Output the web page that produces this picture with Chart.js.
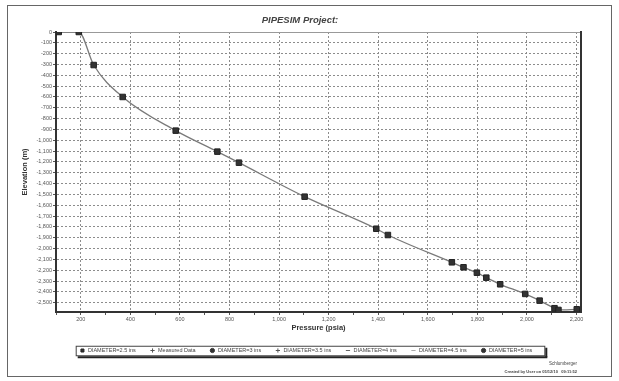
<!DOCTYPE html>
<html>
<head>
<meta charset="utf-8">
<script src="https://cdn.jsdelivr.net/npm/chart.js@4.4.1/dist/chart.umd.min.js"></script>
<style>
  html, body { margin: 0; padding: 0; background: #fff; }
  #wrap { position: relative; width: 619px; height: 381px; overflow: hidden; font-family: "Liberation Sans", Arial, sans-serif; }
  #frame { position: absolute; left: 7px; top: 5px; width: 605px; height: 372px; border: 1px solid #666; box-sizing: border-box; }
  canvas { position: absolute; left: 0; top: 0; }
  #title { position: absolute; left: 0; width: 600px; top: 14px; line-height: 11px; text-align: center; font: italic bold 9.5px "Liberation Sans", Arial, sans-serif; color: #444; }
  .foot { position: absolute; right: 42px; text-align: right; color: #444; white-space: nowrap; }
  #brand { top: 361px; font-size: 4.5px; }
  #created { top: 369px; font-size: 4px; font-weight: bold; }
</style>
</head>
<body>
<div id="wrap">
  <div id="frame"></div>
  <canvas id="chart" width="619" height="381"></canvas>
  <div id="title">PIPESIM Project:</div>
  <div class="foot" id="brand">Schlumberger</div>
  <div class="foot" id="created">Created by User on 05/12/10&nbsp;&nbsp;&nbsp;09:11:52</div>
</div>
<script>
// profil : pression (psia) / élévation (m)
const pressure = [111, 192, 252, 369, 583, 751, 838, 1103, 1392, 1439, 1697, 1744, 1798, 1836, 1892, 1993, 2051, 2111, 2127, 2201];
const elevation = [0, 0, -305, -600, -911, -1105, -1207, -1521, -1817, -1875, -2127, -2173, -2223, -2269, -2330, -2419, -2481, -2551, -2567, -2561];

const pressureTicks = [100, 200, 300, 400, 500, 600, 700, 800, 900, 1000, 1100, 1200, 1300, 1400, 1500, 1600, 1700, 1800, 1900, 2000, 2100, 2200];
const pressureLabels = [200, 400, 600, 800, 1000, 1200, 1400, 1600, 1800, 2000, 2200];
const elevationTicks = [0, -100, -200, -300, -400, -500, -600, -700, -800, -900, -1000, -1100, -1200, -1300, -1400, -1500, -1600, -1700, -1800, -1900, -2000, -2100, -2200, -2300, -2400, -2500];

const legendNames = ['DIAMETER=2.5 ins', 'Measured Data', 'DIAMETER=3 ins', 'DIAMETER=3.5 ins', 'DIAMETER=4 ins', 'DIAMETER=4.5 ins', 'DIAMETER=5 ins'];
const legendStyles = ['rect', 'cross', 'circle', 'cross', 'line', 'line', 'circle'];
const legendColors = ['#333', '#555', '#333', '#555', '#666', '#aaa', '#333'];

const fmt = v => Number(v).toLocaleString('en-US');

const datasets = legendNames.map((name, i) => ({
  label: name,
  data: i === 0 ? pressure.map((p, k) => ({x: p, y: elevation[k]})) : [],
  borderColor: i === 0 ? '#7a7a7a' : legendColors[i],
  backgroundColor: legendColors[i],
  borderWidth: i === 0 ? 1.3 : 1,
  pointStyle: legendStyles[i],
  pointRadius: i === 0 ? 3.9 : 3,
  pointBackgroundColor: legendColors[i],
  pointBorderColor: i === 0 ? '#222' : legendColors[i],
  pointBorderWidth: 1,
  cubicInterpolationMode: 'monotone',
  fill: false,
}));

// cadre autour de la légende, avec ombre
const legendBox = {
  id: 'legendBox',
  afterDraw(chart) {
    const hb = chart.legend && chart.legend.legendHitBoxes;
    if (!hb || !hb.length) return;
    const ctx = chart.ctx;
    const last = hb[hb.length - 1];
    const x1 = hb[0].left - 4, x2 = last.left + last.width + 12;
    const y1 = hb[0].top - 2, y2 = hb[0].top + hb[0].height + 2;
    ctx.save();
    ctx.strokeStyle = '#444';
    ctx.lineWidth = 1;
    ctx.strokeRect(x1 + 0.5, y1 + 0.5, x2 - x1, y2 - y1);
    ctx.fillStyle = '#222';
    ctx.fillRect(x2 + 1, y1 + 2, 2, y2 - y1);
    ctx.fillRect(x1 + 2, y2 + 1, x2 - x1 + 1, 2);
    ctx.restore();
  }
};

new Chart(document.getElementById('chart'), {
  type: 'line',
  data: { datasets },
  options: {
    responsive: false,
    animation: false,
    layout: { padding: { left: 8, right: 15, top: 28, bottom: 17.75 } },
    plugins: {
      legend: {
        position: 'bottom',
        labels: {
          usePointStyle: true,
          boxHeight: 3,
          padding: 14,
          color: '#444',
          font: { family: '"Liberation Sans", Arial, sans-serif', size: 5.5 },
        }
      },
      tooltip: { enabled: false },
    },
    scales: {
      x: {
        type: 'linear',
        position: 'bottom',
        min: 100,
        max: 2218,
        afterBuildTicks: s => { s.ticks = pressureTicks.map(v => ({value: v})); },
        afterFit: s => { s.height = 21.75; },
        ticks: {
          autoSkip: false, maxRotation: 0, padding: 1, color: '#555',
          font: { family: '"Liberation Sans", Arial, sans-serif', size: 5.5 },
          callback: v => pressureLabels.includes(v) ? fmt(v) : '',
        },
        grid: {
          color: c => (c.tick && pressureLabels.includes(c.tick.value)) ? '#8c8c8c' : 'rgba(0,0,0,0)',
          tickColor: '#555', tickLength: 3, lineWidth: 1,
        },
        border: { color: '#333', width: 2, dash: [2, 2] },
        title: {
          display: true, text: 'Pressure (psia)', color: '#333',
          font: { family: '"Liberation Sans", Arial, sans-serif', size: 7.5, weight: 'bold' },
          padding: { top: 0, bottom: 1.25 },
        },
      },
      x2: {
        type: 'linear',
        position: 'top',
        min: 100, max: 2218,
        afterFit: s => { s.height = 4; },
        ticks: { display: false },
        grid: { drawOnChartArea: false, drawTicks: false },
        border: { color: '#999', width: 1 },
      },
      y: {
        type: 'linear',
        position: 'left',
        min: -2586,
        max: 0,
        afterBuildTicks: s => { s.ticks = elevationTicks.map(v => ({value: v})); },
        afterFit: s => { s.width = 48; },
        ticks: {
          autoSkip: false, padding: 1, color: '#555',
          font: { family: '"Liberation Sans", Arial, sans-serif', size: 5.5 },
          callback: v => fmt(v),
        },
        grid: { color: '#8c8c8c', tickColor: '#555', tickLength: 3, lineWidth: 1 },
        border: { color: '#333', width: 2, dash: [2, 2] },
        title: {
          display: true, text: 'Elevation (m)', color: '#333',
          font: { family: '"Liberation Sans", Arial, sans-serif', size: 7.5, weight: 'bold' },
          padding: { top: 12.2, bottom: 0 },
        },
      },
      y2: {
        type: 'linear',
        position: 'right',
        afterFit: s => { s.width = 23; },
        ticks: { display: false },
        grid: { drawOnChartArea: false, drawTicks: false },
        border: { color: '#333', width: 2 },
      },
    }
  },
  plugins: [legendBox]
});
</script>
</body>
</html>
